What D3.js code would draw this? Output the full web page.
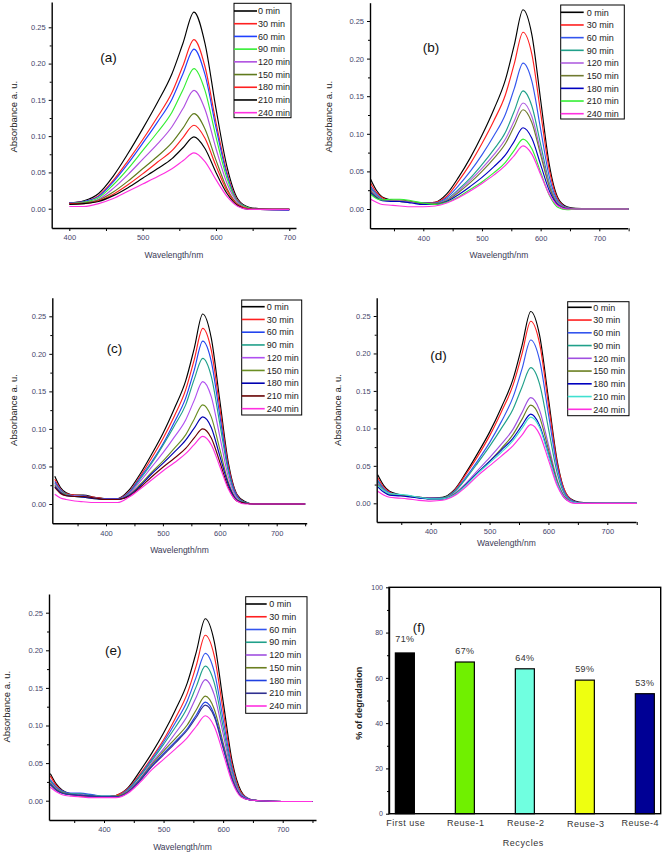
<!DOCTYPE html>
<html><head><meta charset="utf-8">
<script src="https://cdn.jsdelivr.net/npm/d3@7"></script>
<style>body{margin:0;background:#fff}svg{display:block;font-family:"Liberation Sans",Arial,sans-serif}</style>
</head><body><svg id="chart" width="662" height="854"></svg>
<script>
// ---------- data ----------
const timeLabels = ["0 min","30 min","60 min","90 min","120 min","150 min","180 min","210 min","240 min"];
const yTickVals = [0, 0.05, 0.10, 0.15, 0.20, 0.25];
const xTickVals = [400, 500, 600, 700];

const wlA = [400,420,440,460,480,500,520,540,555,570,585,600,615,630,645,660,700];
const absA = [
 [0.008,0.011,0.021,0.045,0.076,0.110,0.146,0.186,0.228,0.271,0.228,0.138,0.058,0.013,0.002,0.000,-0.001],
 [0.008,0.010,0.018,0.039,0.066,0.095,0.126,0.160,0.197,0.233,0.196,0.119,0.050,0.011,0.001,-0.001,-0.002],
 [0.008,0.010,0.017,0.037,0.062,0.090,0.119,0.151,0.186,0.220,0.185,0.112,0.047,0.010,0.001,-0.001,-0.002],
 [0.007,0.009,0.015,0.033,0.055,0.080,0.105,0.133,0.164,0.193,0.163,0.099,0.042,0.009,0.001,-0.001,-0.001],
 [0.007,0.008,0.013,0.028,0.047,0.068,0.089,0.113,0.138,0.163,0.137,0.083,0.035,0.008,0.000,-0.001,-0.001],
 [0.007,0.008,0.012,0.023,0.038,0.055,0.072,0.091,0.111,0.131,0.110,0.067,0.028,0.006,0.000,-0.001,-0.001],
 [0.007,0.007,0.011,0.020,0.033,0.048,0.064,0.080,0.098,0.115,0.097,0.059,0.025,0.005,0.000,-0.001,-0.001],
 [0.006,0.007,0.010,0.018,0.029,0.042,0.055,0.069,0.084,0.099,0.083,0.050,0.021,0.004,-0.001,-0.001,-0.001],
 [0.003,0.003,0.007,0.014,0.024,0.034,0.044,0.055,0.066,0.077,0.065,0.040,0.017,0.003,-0.001,-0.001,-0.001]
];
const colorsA = ["#000000","#ff2020","#2040ff","#33ee33","#b050e0","#5f7a1c","#ff2020","#000000","#ff30e0"];

const wlBE = [310,320,330,345,360,380,400,420,440,460,480,500,520,540,555,570,585,600,615,630,645,660,700,750];
const absB = [
 [0.040,0.025,0.016,0.012,0.010,0.009,0.008,0.009,0.020,0.042,0.068,0.098,0.132,0.172,0.218,0.265,0.232,0.145,0.058,0.014,0.003,0.001,0.000,0.000],
 [0.035,0.022,0.015,0.011,0.010,0.009,0.008,0.009,0.017,0.037,0.060,0.087,0.117,0.152,0.193,0.235,0.206,0.128,0.051,0.012,0.002,0.000,0.000,0.000],
 [0.030,0.020,0.013,0.011,0.010,0.009,0.008,0.008,0.015,0.031,0.050,0.072,0.097,0.126,0.160,0.194,0.170,0.106,0.042,0.010,0.002,0.000,0.000,0.000],
 [0.028,0.018,0.013,0.011,0.010,0.009,0.007,0.007,0.013,0.026,0.041,0.059,0.079,0.102,0.130,0.157,0.137,0.086,0.034,0.008,0.001,0.000,0.000,0.000],
 [0.026,0.017,0.012,0.011,0.011,0.009,0.007,0.007,0.012,0.024,0.038,0.054,0.072,0.093,0.117,0.141,0.123,0.077,0.031,0.007,0.001,0.000,0.000,0.000],
 [0.024,0.016,0.012,0.012,0.012,0.010,0.007,0.007,0.011,0.022,0.035,0.050,0.067,0.087,0.110,0.132,0.115,0.072,0.029,0.006,0.001,0.000,0.000,0.000],
 [0.022,0.015,0.011,0.010,0.010,0.008,0.006,0.006,0.010,0.019,0.030,0.042,0.056,0.072,0.090,0.108,0.094,0.059,0.024,0.005,0.000,0.000,0.000,0.000],
 [0.020,0.014,0.012,0.013,0.013,0.011,0.008,0.006,0.009,0.016,0.026,0.036,0.048,0.062,0.078,0.093,0.080,0.049,0.018,0.002,-0.001,0.000,0.000,0.000],
 [0.013,0.009,0.006,0.005,0.004,0.003,0.003,0.004,0.008,0.015,0.024,0.034,0.045,0.058,0.071,0.084,0.073,0.046,0.019,0.004,0.000,0.000,0.000,0.000]
];
const colorsB = ["#000000","#ff2020","#3355ee","#20a08a","#b060e0","#707a30","#0000c0","#33ee33","#ff30e0"];

const absC = [
 [0.037,0.022,0.015,0.012,0.012,0.009,0.007,0.007,0.018,0.040,0.066,0.094,0.127,0.164,0.207,0.253,0.221,0.138,0.055,0.013,0.003,0,0,0],
 [0.033,0.020,0.014,0.012,0.011,0.009,0.007,0.007,0.016,0.037,0.061,0.087,0.117,0.152,0.192,0.234,0.205,0.128,0.051,0.012,0.002,0,0,0],
 [0.030,0.019,0.013,0.011,0.011,0.008,0.007,0.007,0.015,0.035,0.056,0.080,0.109,0.141,0.178,0.217,0.190,0.118,0.047,0.011,0.002,0,0,0],
 [0.028,0.018,0.013,0.011,0.010,0.008,0.006,0.006,0.014,0.033,0.054,0.078,0.104,0.132,0.166,0.194,0.170,0.107,0.043,0.009,0.002,0,0,0],
 [0.027,0.017,0.012,0.011,0.010,0.008,0.006,0.006,0.013,0.030,0.049,0.068,0.089,0.112,0.138,0.163,0.143,0.090,0.036,0.008,0.001,0,0,0],
 [0.025,0.016,0.012,0.010,0.009,0.007,0.006,0.006,0.012,0.026,0.042,0.057,0.074,0.092,0.113,0.132,0.116,0.073,0.029,0.006,0.001,0,0,0],
 [0.023,0.015,0.011,0.010,0.009,0.007,0.006,0.006,0.011,0.024,0.040,0.054,0.069,0.085,0.101,0.116,0.102,0.064,0.026,0.005,0.001,0,0,0],
 [0.022,0.014,0.011,0.010,0.010,0.008,0.006,0.006,0.010,0.022,0.036,0.049,0.061,0.074,0.088,0.100,0.088,0.056,0.022,0.004,0.001,0,0,0],
 [0.013,0.008,0.006,0.004,0.003,0.002,0.002,0.002,0.009,0.020,0.032,0.044,0.055,0.067,0.079,0.090,0.079,0.050,0.020,0.004,0.000,0,0,0]
];
const colorsC = ["#000000","#ff2020","#2244ee","#20a08a","#b050f0","#6b8e23","#0000b0","#660000","#ff30e0"];

const absD = [
 [0.038,0.024,0.016,0.012,0.010,0.008,0.007,0.008,0.018,0.041,0.067,0.095,0.128,0.166,0.210,0.256,0.224,0.140,0.056,0.013,0.003,0.001,0,0],
 [0.034,0.022,0.015,0.011,0.010,0.008,0.007,0.007,0.017,0.039,0.063,0.090,0.122,0.158,0.199,0.243,0.213,0.132,0.053,0.013,0.002,0,0,0],
 [0.031,0.020,0.014,0.011,0.010,0.008,0.007,0.007,0.016,0.035,0.057,0.081,0.109,0.142,0.179,0.218,0.191,0.119,0.048,0.011,0.002,0,0,0],
 [0.029,0.019,0.013,0.011,0.010,0.008,0.006,0.007,0.015,0.033,0.054,0.076,0.100,0.126,0.155,0.181,0.159,0.100,0.040,0.009,0.001,0,0,0],
 [0.027,0.018,0.013,0.011,0.010,0.008,0.006,0.006,0.013,0.027,0.044,0.061,0.079,0.099,0.121,0.141,0.124,0.078,0.031,0.007,0.001,0,0,0],
 [0.025,0.017,0.012,0.011,0.010,0.008,0.006,0.006,0.012,0.025,0.041,0.056,0.073,0.092,0.112,0.131,0.115,0.072,0.029,0.006,0.001,0,0,0],
 [0.022,0.015,0.011,0.010,0.009,0.007,0.006,0.006,0.011,0.025,0.041,0.056,0.071,0.087,0.104,0.119,0.104,0.066,0.026,0.005,0.001,0,0,0],
 [0.024,0.017,0.013,0.012,0.011,0.008,0.006,0.006,0.011,0.024,0.040,0.054,0.068,0.084,0.100,0.115,0.101,0.064,0.026,0.005,0.001,0,0,0],
 [0.016,0.011,0.008,0.007,0.006,0.004,0.003,0.004,0.010,0.022,0.037,0.050,0.063,0.077,0.091,0.105,0.092,0.058,0.023,0.005,0.000,0,0,0]
];
const colorsD = ["#000000","#ff2020","#3355ee","#20a08a","#a050e0","#6b7f20","#0000c0","#40e0d0","#ff30e0"];

const absE = [
 [0.036,0.022,0.014,0.009,0.007,0.006,0.005,0.007,0.017,0.039,0.063,0.090,0.121,0.157,0.198,0.242,0.212,0.132,0.053,0.013,0.002,0,-0.001,-0.001],
 [0.033,0.020,0.013,0.008,0.006,0.005,0.005,0.007,0.016,0.035,0.057,0.081,0.110,0.143,0.180,0.220,0.193,0.120,0.048,0.011,0.002,0,-0.001,-0.001],
 [0.028,0.018,0.013,0.010,0.010,0.008,0.006,0.006,0.015,0.033,0.055,0.078,0.104,0.133,0.165,0.196,0.172,0.108,0.043,0.009,0.002,0,-0.001,-0.001],
 [0.026,0.017,0.012,0.009,0.009,0.007,0.006,0.006,0.014,0.032,0.053,0.075,0.098,0.124,0.152,0.179,0.157,0.098,0.039,0.009,0.001,0,-0.001,-0.001],
 [0.024,0.016,0.011,0.008,0.008,0.006,0.005,0.006,0.013,0.029,0.050,0.069,0.090,0.113,0.138,0.161,0.141,0.089,0.035,0.008,0.001,0,-0.001,-0.001],
 [0.023,0.015,0.011,0.008,0.007,0.006,0.005,0.006,0.012,0.028,0.048,0.066,0.083,0.101,0.121,0.139,0.122,0.077,0.031,0.006,0.001,0,-0.001,-0.001],
 [0.022,0.014,0.010,0.008,0.007,0.006,0.005,0.005,0.011,0.027,0.046,0.063,0.079,0.096,0.114,0.131,0.115,0.073,0.029,0.006,0.001,0,-0.001,-0.001],
 [0.021,0.014,0.010,0.008,0.007,0.006,0.005,0.005,0.011,0.026,0.045,0.061,0.077,0.094,0.111,0.127,0.112,0.070,0.028,0.006,0.001,0,-0.001,-0.001],
 [0.018,0.012,0.008,0.006,0.005,0.004,0.004,0.004,0.010,0.024,0.041,0.055,0.069,0.084,0.099,0.113,0.099,0.063,0.025,0.005,0.001,0,-0.001,-0.001]
];
const colorsE = ["#000000","#ff2020","#3355ee","#20a08a","#a050e0","#6b7f20","#2040e0","#303090","#ff30e0"];

const recycleCats = ["First use","Reuse-1","Reuse-2","Reuse-3","Reuse-4"];
const degradation = [71, 67, 64, 59, 53];
const degLabels = ["71%","67%","64%","59%","53%"];
const barColors = ["#000000","#70f000","#70ffe0","#eeff10","#000095"];
const degTicks = [0, 20, 40, 60, 80, 100];

// ---------- drawing ----------
const svg = d3.select("#chart");
const tickColor = "#45456a";

function styleAxis(sel, fs) {
  sel.select(".domain").attr("stroke", "#000").attr("stroke-width", 1.4);
  sel.selectAll(".tick line").attr("stroke", "#000").attr("stroke-width", 1);
  sel.selectAll(".tick text").attr("font-size", fs).attr("fill", tickColor).attr("font-family", '"Liberation Sans",Arial,sans-serif');
}

function spectrum(p) {
  const g = svg.append("g");
  const x = d3.scaleLinear().domain([400, 700]).range([p.x400, p.x700]);
  x.domain([x.invert(p.left), x.invert(p.right)]).range([p.left, p.right]);
  const y = d3.scaleLinear().domain([0, 0.25]).range([p.y0, p.y25]);
  y.domain([y.invert(p.bottom), y.invert(p.top)]).range([p.bottom, p.top]);

  const line = d3.line().x((d, i) => x(p.wl[i])).y(d => y(d)).curve(d3.curveMonotoneX);
  p.data.forEach((s, k) => {
    g.append("path").attr("d", line(s)).attr("fill", "none")
      .attr("stroke", p.colors[k]).attr("stroke-width", 1.15);
  });

  g.append("g").attr("transform", `translate(0,${p.bottom})`)
    .call(d3.axisBottom(x).tickValues(p.xMinor).tickSize(3).tickSizeOuter(0).tickFormat(""))
    .call(s => { s.select(".domain").remove(); s.selectAll(".tick line").attr("stroke", "#000"); });
  g.append("g").attr("transform", `translate(${p.left},0)`)
    .call(d3.axisLeft(y).tickValues([0.025, 0.075, 0.125, 0.175, 0.225]).tickSize(2).tickSizeOuter(0).tickFormat(""))
    .call(s => { s.select(".domain").remove(); s.selectAll(".tick line").attr("stroke", "#000"); });

  const gx = g.append("g").attr("transform", `translate(0,${p.bottom})`)
    .call(d3.axisBottom(x).tickValues(xTickVals).tickSize(3).tickPadding(4).tickSizeOuter(0).tickFormat(d3.format("d")));
  styleAxis(gx, 7.5);
  const gy = g.append("g").attr("transform", `translate(${p.left},0)`)
    .call(d3.axisLeft(y).tickValues(yTickVals).tickSize(3).tickPadding(3).tickSizeOuter(0).tickFormat(d3.format(".2f")));
  styleAxis(gy, 7.5);

  g.append("text").attr("x", (p.left + p.right) / 2).attr("y", p.xtY)
    .attr("text-anchor", "middle").attr("font-size", 8.5).attr("fill", "#3a3a55").text("Wavelength/nm");
  g.append("text").attr("transform", `translate(${p.ytX},${p.ytY}) rotate(-90)`)
    .attr("text-anchor", "middle").attr("font-size", 9.5).attr("fill", "#222").text("Absorbance a. u.");

  g.append("text").attr("x", p.labX).attr("y", p.labY).attr("text-anchor", "middle")
    .attr("font-size", 13.5).attr("fill", "#111").text(p.label);

  const lg = g.append("g");
  lg.append("rect").attr("x", p.lx).attr("y", p.ly).attr("width", p.lw).attr("height", p.lh)
    .attr("fill", "#fff").attr("stroke", "#000").attr("stroke-width", 1);
  timeLabels.forEach((t, i) => {
    const yy = p.l0 + i * p.ls;
    lg.append("line").attr("x1", p.lx).attr("x2", p.lx + p.lline).attr("y1", yy).attr("y2", yy)
      .attr("stroke", p.colors[i]).attr("stroke-width", 1.6);
    lg.append("text").attr("x", p.lx + p.ltext).attr("y", yy + 3.2).attr("font-size", 9)
      .attr("fill", "#222").text(t);
  });
}

spectrum({data: absA, wl: wlA, colors: colorsA, label: "(a)",
  x400: 69.3, x700: 289.3, left: 51.7, right: 296, y0: 208.7, y25: 27.3, top: 2, bottom: 228,
  xMinor: [450, 550, 650], xtY: 257.5, ytX: 16.5, ytY: 116.7, labX: 108.5, labY: 61.5,
  lx: 234, ly: 3.3, lw: 57, lh: 114.4, l0: 11, ls: 12.71, lline: 23, ltext: 24});
spectrum({data: absB, wl: wlBE, colors: colorsB, label: "(b)",
  x400: 423.3, x700: 599.3, left: 370, right: 627.7, y0: 209, y25: 21, top: 2.7, bottom: 228.3,
  xMinor: [350, 450, 550, 650, 750], xtY: 258, ytX: 331.5, ytY: 116.7, labX: 431, labY: 51.5,
  lx: 560.7, ly: 5, lw: 63.6, lh: 114, l0: 12.3, ls: 12.675, lline: 23, ltext: 26});
spectrum({data: absC, wl: wlBE, colors: colorsC, label: "(c)",
  x400: 106, x700: 276.7, left: 52.3, right: 306.7, y0: 504, y25: 316.3, top: 297.7, bottom: 523.3,
  xMinor: [350, 450, 550, 650, 750], xtY: 553, ytX: 16.5, ytY: 410, labX: 114.5, labY: 352.5,
  lx: 241.7, ly: 300, lw: 60, lh: 115, l0: 306.7, ls: 12.75, lline: 23, ltext: 25});
spectrum({data: absD, wl: wlBE, colors: colorsD, label: "(d)",
  x400: 430.7, x700: 607.3, left: 376.7, right: 636, y0: 503.3, y25: 316, top: 297.7, bottom: 522,
  xMinor: [350, 450, 550, 650, 750], xtY: 545.7, ytX: 340.5, ytY: 410, labX: 438.5, labY: 359.5,
  lx: 567.7, ly: 301.7, lw: 61.3, lh: 114, l0: 307.3, ls: 12.75, lline: 24, ltext: 25.6});
spectrum({data: absE, wl: wlBE, colors: colorsE, label: "(e)",
  x400: 104, x700: 282.7, left: 49, right: 316, y0: 800.7, y25: 612.7, top: 594, bottom: 820,
  xMinor: [350, 450, 550, 650, 750], xtY: 849.7, ytX: 10, ytY: 706.7, labX: 113.3, labY: 654.5,
  lx: 245.7, ly: 596.7, lw: 61.3, lh: 116.6, l0: 604, ls: 12.75, lline: 21, ltext: 23.6});

// ---------- panel (f) ----------
(function () {
  const g = svg.append("g");
  const L = 389, R = 660.7, T = 587.3, B = 813.7;
  const x = d3.scaleBand().domain(recycleCats).range([L, R]).paddingInner(0.683).paddingOuter(0.106);
  const y = d3.scaleLinear().domain([0, 100]).range([B, T]);

  g.selectAll("rect.bar").data(degradation).enter().append("rect").attr("class", "bar")
    .attr("x", (d, i) => x(recycleCats[i])).attr("width", x.bandwidth())
    .attr("y", d => y(d)).attr("height", d => B - y(d))
    .attr("fill", (d, i) => barColors[i]).attr("stroke", "#000").attr("stroke-width", 1.2);

  g.selectAll("text.val").data(degradation).enter().append("text").attr("class", "val")
    .attr("x", (d, i) => x(recycleCats[i]) + x.bandwidth() / 2)
    .attr("y", (d, i) => y(d) - (i === 0 ? 11 : 8))
    .attr("text-anchor", "middle").attr("font-size", 9).attr("letter-spacing", 0.4)
    .attr("fill", "#333").text((d, i) => degLabels[i]);

  g.append("g").attr("transform", `translate(${L},0)`)
    .call(d3.axisLeft(y).tickValues([10, 30, 50, 70, 90]).tickSize(2).tickSizeOuter(0).tickFormat(""))
    .call(s => { s.select(".domain").remove(); s.selectAll(".tick line").attr("stroke", "#000"); });
  const gy = g.append("g").attr("transform", `translate(${L},0)`)
    .call(d3.axisLeft(y).tickValues(degTicks).tickSize(3).tickPadding(3).tickSizeOuter(0));
  styleAxis(gy, 7);

  g.append("rect").attr("x", L).attr("y", T).attr("width", R - L).attr("height", B - T)
    .attr("fill", "none").attr("stroke", "#000").attr("stroke-width", 1.4);

  recycleCats.forEach((c, i) => {
    const last = i === recycleCats.length - 1;
    g.append("text").attr("x", last ? 659 : x(c) + x.bandwidth() / 2 + 1).attr("y", 826 + (i === 3 ? 1 : 0))
      .attr("text-anchor", last ? "end" : "middle").attr("font-size", 9).attr("letter-spacing", 0.5)
      .attr("fill", "#333").text(c);
  });
  g.append("text").attr("x", 523.3).attr("y", 845.5).attr("text-anchor", "middle")
    .attr("font-size", 9).attr("letter-spacing", 0.6).attr("fill", "#333").text("Recycles");
  g.append("text").attr("transform", "translate(361.5,703.3) rotate(-90)").attr("text-anchor", "middle")
    .attr("font-size", 9).attr("font-weight", "bold").attr("fill", "#222").text("% of degradation");
  g.append("text").attr("x", 419).attr("y", 631.5).attr("text-anchor", "middle")
    .attr("font-size", 13).attr("fill", "#111").text("(f)");
})();
</script>
</body></html>
